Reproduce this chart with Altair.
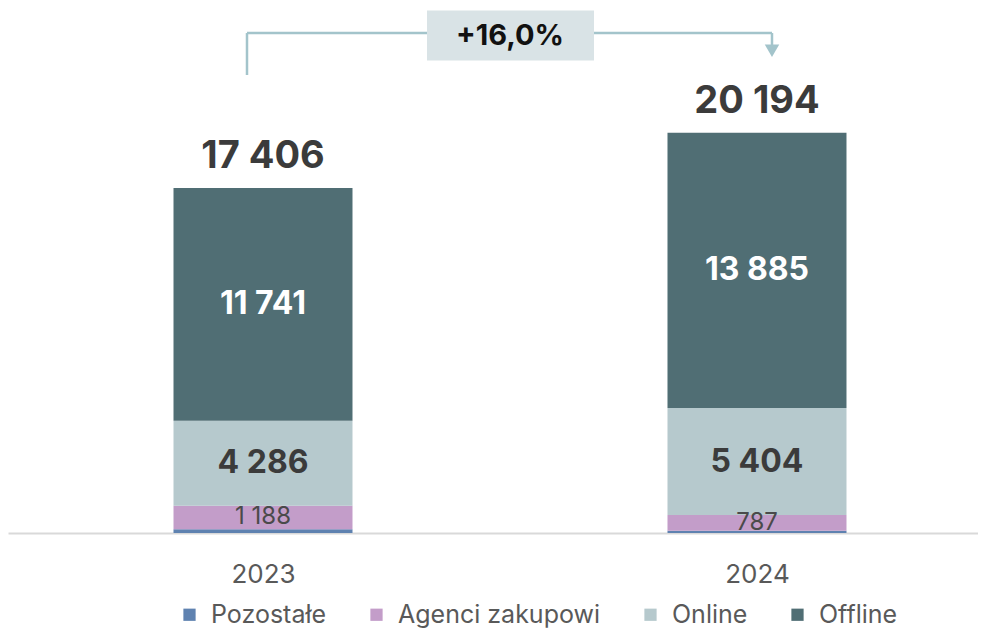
import altair as alt
import pandas as pd

years = [2023, 2024]
categories = ["Pozostałe", "Agenci zakupowi", "Online", "Offline"]
pozostale = [191, 118]
agenci = [1188, 787]
online = [4286, 5404]
offline = [11741, 13885]
totals = [17406, 20194]
colors = ["#5f82b0", "#c39dc9", "#b6c9cd", "#506e74"]
growth_label = "+16,0%"

series = [pozostale, agenci, online, offline]
rows = []
for ci, (cat, vals) in enumerate(zip(categories, series)):
    for yr, v in zip(years, vals):
        rows.append({"year": yr, "category": cat, "value": v, "ord": ci})
df = pd.DataFrame(rows)
df_tot = pd.DataFrame({"year": years, "total": totals})

FONT = "Inter"
YMAX = 26490
x_scale = alt.Scale(domain=[2022.4838, 2024.4474], nice=False, zero=False, padding=0)
y_scale = alt.Scale(domain=[0, YMAX], nice=False)

x_enc = alt.X(
    "year:Q",
    scale=x_scale,
    axis=alt.Axis(
        title=None, labelAngle=0, ticks=False, labelPadding=28, values=years, format="d",
        labelFontSize=26, labelColor="#595959", labelFont=FONT,
        domainColor="#d9d9d9", domainWidth=2, grid=False,
    ),
)

bars = alt.Chart(df).mark_bar(size=179).encode(
    x=x_enc,
    y=alt.Y("value:Q", stack="zero", scale=y_scale, axis=None),
    color=alt.Color(
        "category:N",
        scale=alt.Scale(domain=categories, range=colors),
        legend=alt.Legend(
            orient="none", legendX=169, legendY=594, direction="horizontal",
            title=None, symbolType="square", symbolSize=150, symbolStrokeWidth=0,
            labelFontSize=25, labelColor="#595959", labelFont=FONT, labelLimit=400,
            columnPadding=37, labelOffset=9,
        ),
        sort=categories,
    ),
    order=alt.Order("ord:Q", sort="ascending"),
)

stacked = alt.Chart(df).transform_stack(
    stack="value", groupby=["year"], sort=[alt.SortField("ord", order="ascending")],
    as_=["y0", "y1"],
).transform_calculate(
    mid="(datum.y0 + datum.y1) / 2",
    label="replace(format(datum.value, ','), ',', ' ')",
)

def seg_label(cat, color, size, weight):
    return stacked.transform_filter(alt.datum.category == cat).mark_text(
        font=FONT, fontSize=size, fontWeight=weight, color=color, baseline="middle"
    ).encode(
        x=alt.X("year:Q", scale=x_scale),
        y=alt.Y("mid:Q", scale=y_scale),
        text="label:N",
    )

lab_off = seg_label("Offline", "white", 32, "bold")
lab_on = seg_label("Online", "#3b3b3b", 32, "bold")
lab_ag = seg_label("Agenci zakupowi", "#4a4a4a", 24, "normal")

tot = alt.Chart(df_tot).transform_calculate(
    label="replace(format(datum.total, ','), ',', ' ')"
).mark_text(
    font=FONT, fontSize=38, fontWeight="bold", color="#3b3b3b", baseline="alphabetic", dy=-20
).encode(
    x=alt.X("year:Q", scale=x_scale),
    y=alt.Y("total:Q", scale=y_scale),
    text="label:N",
)

# growth annotation (bracket + box)
LINE = "#a3c4cb"
y_top = 25227
horiz = alt.Chart(pd.DataFrame({"a": [years[0]], "b": [years[1]], "y": [y_top]})).mark_rule(
    color=LINE, strokeWidth=2.5, xOffset=-16, x2Offset=15
).encode(x=alt.X("a:Q", scale=x_scale), x2="b:Q", y=alt.Y("y:Q", scale=y_scale))
left_v = alt.Chart(pd.DataFrame({"x": [years[0]], "y": [23108], "y2": [y_top]})).mark_rule(
    color=LINE, strokeWidth=2.5, xOffset=-16
).encode(x=alt.X("x:Q", scale=x_scale), y=alt.Y("y:Q", scale=y_scale), y2="y2:Q")
right_v = alt.Chart(pd.DataFrame({"x": [years[1]], "y": [24600], "y2": [y_top]})).mark_rule(
    color=LINE, strokeWidth=2.5, xOffset=15
).encode(x=alt.X("x:Q", scale=x_scale), y=alt.Y("y:Q", scale=y_scale), y2="y2:Q")
arrow = alt.Chart(pd.DataFrame({"x": [years[1]], "y": [24330]})).mark_point(
    shape="triangle-down", filled=True, color=LINE, size=210, opacity=1, xOffset=15
).encode(x=alt.X("x:Q", scale=x_scale), y=alt.Y("y:Q", scale=y_scale))

box = alt.Chart(pd.DataFrame({"a": [years[0]], "b": [years[1]], "y": [25100]})).mark_rule(
    color="#d9e3e6", strokeWidth=50, strokeCap="butt", xOffset=164, x2Offset=-163
).encode(x=alt.X("a:Q", scale=x_scale), x2="b:Q", y=alt.Y("y:Q", scale=y_scale))
box_txt = alt.Chart(pd.DataFrame({"x": [years[0]], "y": [25100], "t": [growth_label]})).mark_text(
    font=FONT, fontSize=29, fontWeight="bold", color="#111111", baseline="middle", xOffset=247
).encode(x=alt.X("x:Q", scale=x_scale), y=alt.Y("y:Q", scale=y_scale), text="t:N")

chart = alt.layer(
    bars, lab_off, lab_on, lab_ag, tot, horiz, left_v, right_v, arrow, box, box_txt
).properties(
    width=970, height=525,
    background="white",
    autosize=alt.AutoSizeParams(type="none"),
    padding={"left": 0, "top": 0, "right": 0, "bottom": 96},
).configure_view(stroke=None)

chart.save("out.html", embed_options={"renderer": "svg", "actions": False})
